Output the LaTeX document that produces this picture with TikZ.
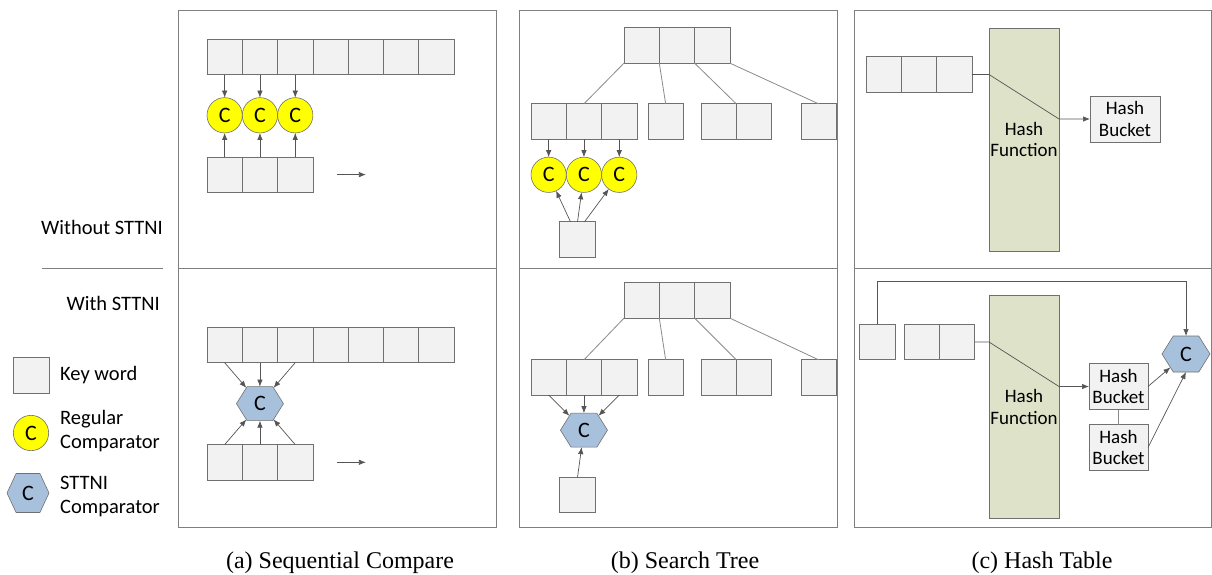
\documentclass[tikz,border=0pt]{standalone}
\usepackage{fontspec}
\setmainfont{Carlito}
\newfontfamily\capfont{Liberation Serif}
\usetikzlibrary{arrows.meta,positioning,shapes.symbols}

\definecolor{framegray}{HTML}{7F7F7F}
\definecolor{edgegray}{HTML}{707070}
\definecolor{linkgray}{HTML}{8A8A8A}
\definecolor{arrowgray}{HTML}{555555}
\definecolor{keyfill}{HTML}{F2F2F2}
\definecolor{cmpyellow}{HTML}{FFFF00}
\definecolor{cmpblue}{HTML}{A7C1DC}
\definecolor{hashgreen}{HTML}{DDE2C8}

\begin{document}
\begin{tikzpicture}[x=1pt,y=-1pt,>={Latex[length=7pt,width=5.5pt]},
  lbl/.style={font=\fontsize{20.5}{24}\selectfont, inner sep=0pt},
  key/.style={rectangle, draw=edgegray, fill=keyfill, line width=0.8pt, minimum size=35.3pt, inner sep=0pt, outer sep=0pt},
  reg/.style={circle, draw=edgegray, fill=cmpyellow, line width=0.6pt, minimum size=35.3pt, inner sep=0pt, outer sep=0pt, font=\fontsize{22}{22}\selectfont},
  sttni/.style={signal, signal to=east and west, signal pointer angle=116, draw=edgegray, fill=cmpblue, line width=0.6pt, minimum width=47pt, minimum height=34pt, inner sep=0pt, outer sep=0pt, font=\fontsize{22}{22}\selectfont},
  bucket/.style={rectangle, draw=edgegray, fill=keyfill, line width=0.8pt, minimum height=46pt, inner sep=0pt, outer sep=0pt, align=center, font=\fontsize{19}{21.5}\selectfont},
  hashfn/.style={rectangle, draw=edgegray, fill=hashgreen, line width=0.8pt, minimum width=70pt, minimum height=223pt, inner sep=0pt, outer sep=0pt, align=center, font=\fontsize{19}{21.5}\selectfont},
  frame/.style={draw=framegray, line width=1pt},
  link/.style={draw=linkgray, line width=0.8pt},
  arr/.style={->, draw=arrowgray, line width=0.7pt},
  captxt/.style={font=\capfont\fontsize{24}{24}\selectfont, inner sep=0pt},
]
\useasboundingbox (0,0) rectangle (1212,575);

% panels
\foreach \l/\r in {178/496,519/837,854/1211} {
  \draw[frame] (\l,11) rectangle (\r,527);
  \draw[frame] (\l,268) -- (\r,268);
}

% legend
\node (woLbl) [lbl, anchor=east] at (163,227) {Without STTNI};
\draw[frame] (42,268) -- (163,268);
\node (wLbl) [lbl, anchor=east] at (160,303) {With STTNI};
\node (lgKey) [key, minimum size=36pt] at (31,375) {};
\node (lgKeyTxt) [lbl, anchor=west] at (60,375) {Key word};
\node (lgReg) [reg] at (31,433) {C};
\node (lgRegTxt) [lbl, anchor=west, align=left] at (60,431) {Regular\\Comparator};
\node (lgSt) [sttni, minimum width=42pt, minimum height=39pt, signal pointer angle=130] at (28,493) {C};
\node (lgStTxt) [lbl, anchor=west, align=left] at (60,496) {STTNI\\Comparator};

% (a) sequential compare, without STTNI
\node (sa1) [key] at (224.65,57) {};
\foreach \i [count=\j from 2] in {1,...,6}
  \node (sa\j) [key, right=0pt of sa\i] {};
\foreach \i in {1,2,3}
  \node (ca\i) [reg, below=23pt of sa\i] {C};
\foreach \i in {1,2,3}
  \node (qa\i) [key, below=24pt of ca\i] {};
\foreach \i in {1,2,3} {
  \draw[arr] (sa\i) -- (ca\i);
  \draw[arr] (qa\i) -- (ca\i);
}
\coordinate[right=24pt of qa3] (ma0);
\coordinate[right=29pt of ma0] (ma1);
\draw[arr] (ma0) -- (ma1);

% (a) sequential compare, with STTNI
\node (sb1) [key] at (224.65,345) {};
\foreach \i [count=\j from 2] in {1,...,6}
  \node (sb\j) [key, right=0pt of sb\i] {};
\node (hxa) [sttni, below=24pt of sb2] {C};
\node (qb2) [key, below=24pt of hxa] {};
\node (qb1) [key, left=0pt of qb2] {};
\node (qb3) [key, right=0pt of qb2] {};
\foreach \i in {1,2,3} {
  \draw[arr] (sb\i.south) -- (hxa);
  \draw[arr] (qb\i.north) -- (hxa);
}
\coordinate[right=24pt of qb3] (mb0);
\coordinate[right=29pt of mb0] (mb1);
\draw[arr] (mb0) -- (mb1);

% (b) search tree, without STTNI
\node (ra1) [key] at (641.65,45.5) {};
\node (ra2) [key, right=0pt of ra1] {};
\node (ra3) [key, right=0pt of ra2] {};
\node (ga1) [key] at (548.65,121.5) {};
\node (ga2) [key, right=0pt of ga1] {};
\node (ga3) [key, right=0pt of ga2] {};
\node (gb1) [key] at (665.65,121.5) {};
\node (gc1) [key] at (718.65,121.5) {};
\node (gc2) [key, right=0pt of gc1] {};
\node (gd1) [key] at (818.65,121.5) {};
\draw[link] (ra1.south west) -- (ga2.north);
\draw[link] (ra1.south east) -- (gb1.north);
\draw[link] (ra2.south east) -- (gc1.north east);
\draw[link] (ra3.south east) -- (gd1.north);
\foreach \i in {1,2,3} {
  \node (cb\i) [reg, below=18pt of ga\i] {C};
  \draw[arr] (ga\i) -- (cb\i);
}
\node (kb) [key] at (577.5,239.5) {};
\draw[arr] ([xshift=-7pt]kb.north) -- (cb1);
\draw[arr] (kb.north) -- (cb2);
\draw[arr] ([xshift=7pt]kb.north) -- (cb3);

% (b) search tree, with STTNI
\node (rb1) [key] at (641.65,300.5) {};
\node (rb2) [key, right=0pt of rb1] {};
\node (rb3) [key, right=0pt of rb2] {};
\node (ha1) [key] at (548.65,377.5) {};
\node (ha2) [key, right=0pt of ha1] {};
\node (ha3) [key, right=0pt of ha2] {};
\node (hb1) [key] at (665.65,377.5) {};
\node (hc1) [key] at (718.65,377.5) {};
\node (hc2) [key, right=0pt of hc1] {};
\node (hd1) [key] at (818.65,377.5) {};
\draw[link] (rb1.south west) -- (ha2.north);
\draw[link] (rb1.south east) -- (hb1.north);
\draw[link] (rb2.south east) -- (hc1.north east);
\draw[link] (rb3.south east) -- (hd1.north);
\node (hxb) [sttni, below=18pt of ha2] {C};
\foreach \i in {1,2,3}
  \draw[arr] (ha\i.south) -- (hxb);
\node (kb2) [key] at (577.5,495) {};
\draw[arr] (kb2.north) -- (hxb);

% (c) hash table, without STTNI
\node (kc1) [key] at (883.65,74.5) {};
\node (kc2) [key, right=0pt of kc1] {};
\node (kc3) [key, right=0pt of kc2] {};
\node (hf1) [hashfn] at (1024,139.5) {Hash\\Function};
\node (bk1) [bucket, minimum width=70pt] at (1125,119) {Hash\\Bucket};
\draw[arr] (kc3.east) -- (hf1.west |- kc3.east) -- (hf1.east |- bk1.west) -- (bk1);

% (c) hash table, with STTNI
\node (sk) [key] at (877.5,342) {};
\node (kd1) [key] at (921.65,342) {};
\node (kd2) [key, right=0pt of kd1] {};
\node (hf2) [hashfn] at (1024,407) {Hash\\Function};
\node (bk2) [bucket, minimum width=59pt] at (1118.5,386.5) {Hash\\Bucket};
\node (bk3) [bucket, minimum width=59pt, below=15pt of bk2] {Hash\\Bucket};
\node (hxc) [sttni, minimum width=48pt, minimum height=36pt] at (1186,354) {C};
\draw[link] (bk2) -- (bk3);
\draw[arr] (kd2.east) -- (hf2.west |- kd2.east) -- (hf2.east |- bk2.west) -- (bk2);
\draw[arr] (bk2.east) -- (hxc);
\draw[arr] (bk3.east) -- (hxc.south);
\draw[arr] (sk.north) |- ([yshift=55pt]hxc.north) -- (hxc.north);

% captions
\node (capA) [captxt] at (340,563) {(a) Sequential Compare};
\node (capB) [captxt] at (685,563) {(b) Search Tree};
\node (capC) [captxt] at (1042,563) {(c) Hash Table};

\end{tikzpicture}
\end{document}
